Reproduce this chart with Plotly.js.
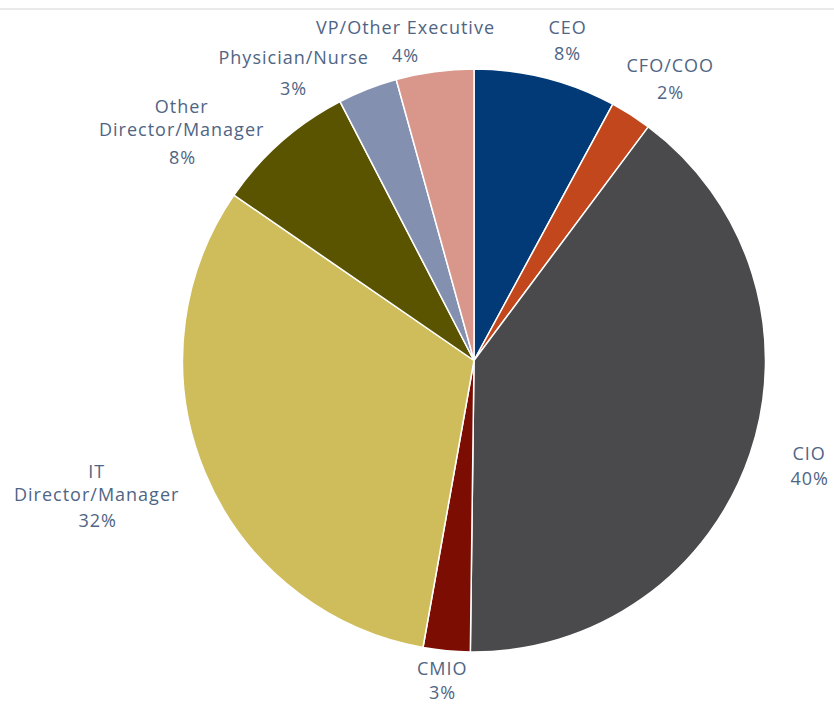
<!DOCTYPE html>
<html>
<head>
<meta charset="utf-8">
<script src="https://cdn.plot.ly/plotly-3.0.1.min.js"></script>
<style>
html,body{margin:0;padding:0;background:#fff;}
#chart{width:834px;height:707px;}
#chart .annotation-text{letter-spacing:1px;}
</style>
</head>
<body>
<div id="chart"></div>
<script>
const categories = ["CEO", "CFO/COO", "CIO", "CMIO", "IT Director/Manager", "Other Director/Manager", "Physician/Nurse", "VP/Other Executive"];
const labelText = ["CEO", "CFO/COO", "CIO", "CMIO", "IT<br>Director/Manager", "Other<br>Director/Manager", "Physician/Nurse", "VP/Other Executive"];
const shares = [7.9, 2.3, 40.0, 2.6, 31.8, 7.8, 3.3, 4.3];
const sliceColors = ["#023a78", "#c2471d", "#4a4a4c", "#7b0d03", "#cfbd5c", "#5a5300", "#8390b0", "#d9968a"];

// label placement (pixel centres): [x, name centre y, percent centre y]
const labelPlacement = [
  [567, 27, 53],
  [670, 65, 92],
  [809, 453, 478],
  [442, 668, 692],
  [97, 483, 520],
  [182, 117, 157],
  [293, 57, 88],
  [405, 27, 55]
];

const W = 834, H = 707, ml = 114, mr = 0, mt = 69, mb = 55;
const plotH = H - mt - mb, plotW = W - ml - mr;
const px2x = p => (p - ml) / plotW;
const px2y = p => (H - mb - p) / plotH;

const total = shares.reduce((a, b) => a + b, 0);
const labelFont = {family: 'Open Sans, sans-serif', size: 18, color: '#4f6584'};
const annotations = [];
categories.forEach((c, i) => {
  const [x, yName, yPct] = labelPlacement[i];
  annotations.push({
    xref: 'paper', yref: 'paper', x: px2x(x), y: px2y(yName),
    xanchor: 'center', yanchor: 'middle', showarrow: false,
    text: labelText[i], font: labelFont, align: 'center'
  });
  annotations.push({
    xref: 'paper', yref: 'paper', x: px2x(x), y: px2y(yPct),
    xanchor: 'center', yanchor: 'middle', showarrow: false,
    text: Math.round(shares[i] / total * 100) + '%', font: labelFont
  });
});

Plotly.newPlot('chart', [{
  type: 'pie',
  labels: categories,
  values: shares,
  sort: false,
  direction: 'clockwise',
  rotation: 0,
  marker: {colors: sliceColors, line: {color: '#ffffff', width: 1.5}},
  textinfo: 'none',
  automargin: false,
  showlegend: false,
  hoverinfo: 'label+percent'
}], {
  width: W, height: H,
  margin: {l: ml, r: mr, t: mt, b: mb},
  paper_bgcolor: '#ffffff',
  annotations: annotations,
  shapes: [{
    type: 'line', xref: 'paper', yref: 'paper',
    x0: -ml / plotW, x1: 1 + mr / plotW,
    y0: px2y(9), y1: px2y(9),
    line: {color: '#d4d4d4', width: 1}
  }]
}, {displayModeBar: false});
</script>
</body>
</html>
